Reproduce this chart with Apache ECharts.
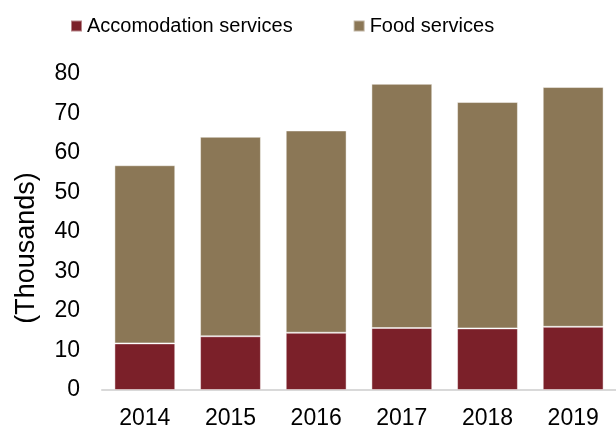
<!DOCTYPE html>
<html>
<head>
<meta charset="utf-8">
<script src="https://cdn.jsdelivr.net/npm/echarts@6/dist/echarts.min.js"></script>
<style>
html,body{margin:0;padding:0;background:#fff;}
#chart{width:616px;height:430px;}
</style>
</head>
<body>
<div id="chart"></div>
<script>
const categories = ['2014','2015','2016','2017','2018','2019'];
const accommodation = [11.8, 13.6, 14.5, 15.7, 15.6, 16.0];
const food = [45.1, 50.5, 51.2, 61.8, 57.3, 60.7];
const seriesNames = ['Accomodation services', 'Food services'];
const yAxisName = '(Thousands)';

const chart = echarts.init(document.getElementById('chart'), null, {renderer: 'canvas'});
const font = 'Liberation Sans, Arial, sans-serif';
chart.setOption({
  animation: false,
  backgroundColor: '#ffffff',
  legend: {
    left: 65, top: 11,
    icon: 'rect', itemWidth: 11, itemHeight: 11, itemGap: 60,
    textStyle: {fontFamily: font, fontSize: 20, color: '#000'},
    data: seriesNames
  },
  grid: {left: 102, right: -9, top: 74, bottom: 39, containLabel: false},
  xAxis: {
    type: 'category', data: categories,
    axisLine: {lineStyle: {color: '#d9d9d9', width: 2}},
    axisTick: {show: false},
    axisLabel: {fontFamily: font, fontSize: 23, color: '#000', margin: 17}
  },
  yAxis: {
    type: 'value', min: 0, max: 80, interval: 10,
    name: yAxisName, nameLocation: 'middle', nameRotate: 90, nameGap: 62,
    nameTextStyle: {fontFamily: font, fontSize: 27, color: '#000', padding: [0, 32, 0, 0]},
    axisLine: {show: false}, axisTick: {show: false},
    splitLine: {show: false},
    axisLabel: {fontFamily: font, fontSize: 23, color: '#000', margin: 22}
  },
  series: [
    {name: seriesNames[0], type: 'bar', stack: 'total', data: accommodation,
     barCategoryGap: '29%',
     itemStyle: {color: '#7b2029', borderColor: 'rgba(255,255,255,0.45)', borderWidth: 1}},
    {name: seriesNames[1], type: 'bar', stack: 'total', data: food,
     barCategoryGap: '29%',
     itemStyle: {color: '#8b7756', borderColor: 'rgba(255,255,255,0.45)', borderWidth: 1}}
  ]
});
</script>
</body>
</html>
